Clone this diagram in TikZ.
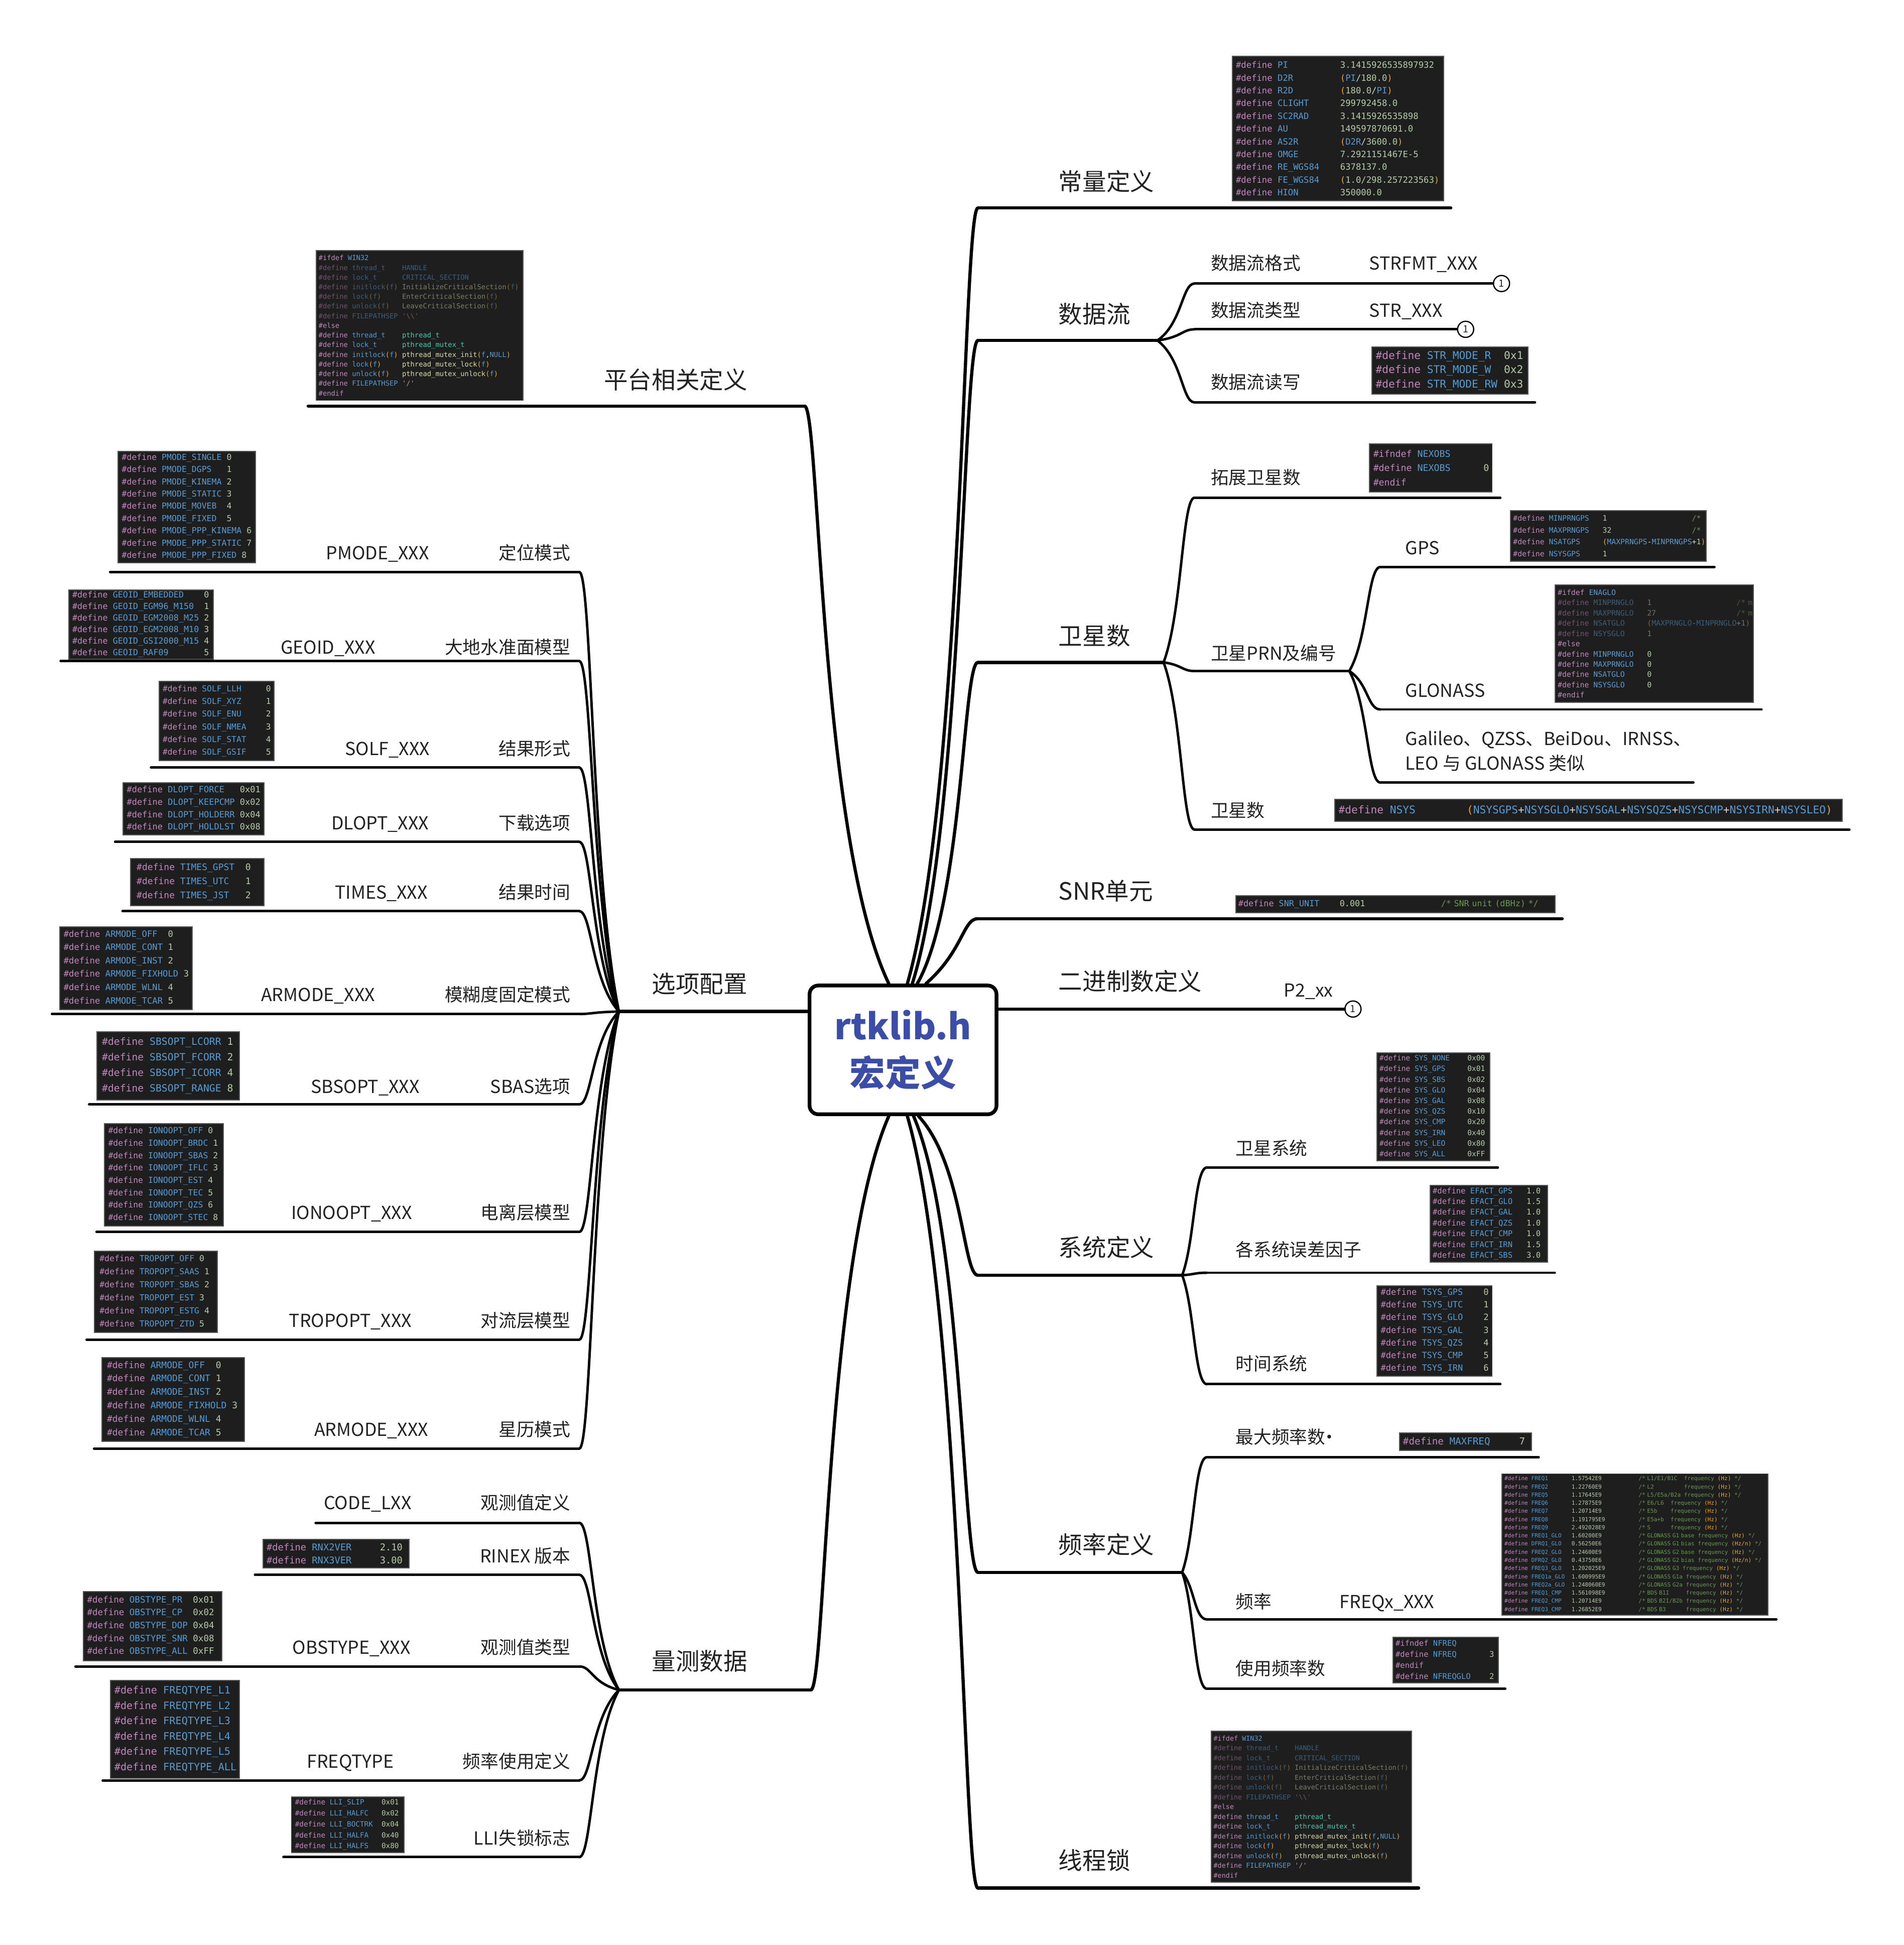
\documentclass[tikz,border=0pt]{standalone}
\usepackage{fontspec}
\setmainfont{Noto Sans CJK SC}
\newfontfamily\codefont{DejaVu Sans Mono}
\usetikzlibrary{calc}
\definecolor{txt}{HTML}{222222}
\definecolor{blu}{HTML}{3B4DA6}
\definecolor{codebg}{HTML}{1E1E1E}
\definecolor{codeborder}{HTML}{555555}
\definecolor{codetxt}{HTML}{D4D4D4}
\definecolor{ckw}{HTML}{C586C0}
\definecolor{cid}{HTML}{569CD6}
\definecolor{cnum}{HTML}{B5CEA8}
\definecolor{cpar}{HTML}{E9A93B}
\definecolor{ccmt}{HTML}{6A9955}
\definecolor{ctyp}{HTML}{4EC9B0}
\definecolor{cfn}{HTML}{DCDCAA}
\definecolor{cstr}{HTML}{CE9178}
\colorlet{ckwd}{ckw!50!codebg}
\colorlet{cidd}{cid!50!codebg}
\colorlet{cnumd}{cnum!50!codebg}
\colorlet{cpard}{cpar!50!codebg}
\colorlet{ccmtd}{ccmt!50!codebg}
\colorlet{cfnd}{cfn!50!codebg}
\colorlet{cstrd}{cstr!50!codebg}
\colorlet{ctxtd}{codetxt!50!codebg}
\newlength\codecw
\newcommand\kwc[1]{\textcolor{ckw}{#1}}
\newcommand\idc[1]{\textcolor{cid}{#1}}
\newcommand\nmc[1]{\textcolor{cnum}{#1}}
\newcommand\prc[1]{\textcolor{cpar}{#1}}
\newcommand\cmc[1]{\textcolor{ccmt}{#1}}
\newcommand\tyc[1]{\textcolor{ctyp}{#1}}
\newcommand\fnc[1]{\textcolor{cfn}{#1}}
\newcommand\stc[1]{\textcolor{cstr}{#1}}
\newcommand\kwd[1]{\textcolor{ckwd}{#1}}
\newcommand\idd[1]{\textcolor{cidd}{#1}}
\newcommand\nmd[1]{\textcolor{cnumd}{#1}}
\newcommand\prd[1]{\textcolor{cpard}{#1}}
\newcommand\cmdd[1]{\textcolor{ccmtd}{#1}}
\newcommand\fnd[1]{\textcolor{cfnd}{#1}}
\newcommand\std[1]{\textcolor{cstrd}{#1}}
\newcommand\dtx[1]{\textcolor{ctxtd}{#1}}
\newcommand\sk[1]{\hspace*{#1\codecw}}
\newcommand\cl[1]{\mbox{#1}}
\newcommand\df[3]{\mbox{\kwc{\#define}\sk{1}\idc{#1}\sk{#2}#3}}
\newcommand\dfd[3]{\mbox{\kwd{\#define}\sk{1}\idd{#1}\sk{#2}\dtx{#3}}}
\newcommand\fq[7]{\mbox{\kwc{\#define}\sk{1}\idc{#1}\sk{#2}\nmc{#3}\sk{#4}\cmc{/* #5}\sk{#6}\cmc{frequency}\sk{1}\prc{(#7)}\sk{1}\cmc{*/}}}
\newcommand\cdbox[9]{\node[code, text width={#4-2*#6}, inner xsep=#6, minimum height=#5, font=\codefont\fontsize{#7}{#8}\selectfont] (#1) at (#2,#3) {#9};}
\newcommand\conn[5][l2]{\draw[#1] let \p1=(#2), \p2=(#3) in (\p1) .. controls ({\x2+#4},{\y1+#5*(\y2-\y1)}) and ({\x2+#4},{\y2}) .. (\p2);}
\newcommand\threadcode{%
\cl{\kwc{\#ifdef}\sk{1}\idc{WIN32}}\\
\dfd{thread\_t}{4}{\idd{HANDLE}}\\
\dfd{lock\_t}{6}{\idd{CRITICAL\_SECTION}}\\
\dfd{initlock\prd{(}f\prd{)}}{1}{\fnd{InitializeCriticalSection}\prd{(}\idd{f}\prd{)}}\\
\dfd{lock\prd{(}f\prd{)}}{5}{\fnd{EnterCriticalSection}\prd{(}\idd{f}\prd{)}}\\
\dfd{unlock\prd{(}f\prd{)}}{3}{\fnd{LeaveCriticalSection}\prd{(}\idd{f}\prd{)}}\\
\dfd{FILEPATHSEP}{1}{\std{'\textbackslash\textbackslash'}}\\
\cl{\kwc{\#else}}\\
\df{thread\_t}{4}{\tyc{pthread\_t}}\\
\df{lock\_t}{6}{\tyc{pthread\_mutex\_t}}\\
\df{initlock\prc{(}f\prc{)}}{1}{\fnc{pthread\_mutex\_init}\prc{(}\idc{f},\idc{NULL}\prc{)}}\\
\df{lock\prc{(}f\prc{)}}{5}{\fnc{pthread\_mutex\_lock}\prc{(}\idc{f}\prc{)}}\\
\df{unlock\prc{(}f\prc{)}}{3}{\fnc{pthread\_mutex\_unlock}\prc{(}\idc{f}\prc{)}}\\
\df{FILEPATHSEP}{1}{\stc{'/'}}\\
\cl{\kwc{\#endif}}}
\begin{document}
\begin{tikzpicture}[x=1pt,y=-1pt,
  l1/.style={line width=2.6pt, draw=black, line cap=round},
  l2/.style={line width=2pt, draw=black, line cap=round},
  t1/.style={font=\fontsize{19.3}{23}\selectfont, inner sep=0pt, text=txt},
  t2/.style={font=\fontsize{14.5}{17}\selectfont, inner sep=0pt, text=txt},
  code/.style={anchor=north west, fill=codebg, draw=codeborder, line width=0.8pt, inner ysep=0pt, align=left, text=codetxt, execute at begin node={\settowidth{\codecw}{0}}},
  circ/.style={circle, draw=black, line width=1pt, fill=white, inner sep=0pt, minimum size=13pt, font=\fontsize{8}{8}\selectfont, text=txt}]
\useasboundingbox (0,0) rectangle (1538,1571);
\fill[white] (0,0) rectangle (1538,1571);

% centre
\node[draw=black, line width=3pt, rounded corners=7pt, fill=white, minimum width=151, minimum height=104, align=center, text=blu, font=\bfseries\fontsize{28.7}{38}\selectfont, inner sep=0pt] (c) at (729.5,848) {rtklib.h\\宏定义};

% start points on the centre
\coordinate (cK) at ($(c.north)+(3.5,0)$);
\coordinate (cD) at ($(c.north)+(7.5,0)$);
\coordinate (cS) at ($(c.north)+(11.5,0)$);
\coordinate (cR) at ($(c.north)+(18.5,0)$);
\coordinate (cP) at ($(c.north)+(-11.5,0)$);
\coordinate (cY) at ($(c.south)+(12.5,0)$);
\coordinate (cF) at ($(c.south)+(8.5,0)$);
\coordinate (cL) at ($(c.south)+(3.5,0)$);
\coordinate (cM) at ($(c.south)+(-11.5,0)$);

% level-1 underline end points
\coordinate (K0) at (790,168);  \coordinate (K1) at (1172,168);
\coordinate (D0) at (790,275);  \coordinate (D1) at (935,275);
\coordinate (S0) at (790,535);  \coordinate (S1) at (940,535);
\coordinate (R0) at (790,742);  \coordinate (R1) at (1262,742);
\coordinate (B1) at (1086,815); \coordinate (B0) at (c.east |- B1);
\coordinate (Y0) at (790,1030); \coordinate (Y1) at (955,1030);
\coordinate (F0) at (790,1270); \coordinate (F1) at (955,1270);
\coordinate (L0) at (790,1525); \coordinate (L1) at (1146,1525);
\coordinate (P0) at (650,328);  \coordinate (P1) at (249,328);
\coordinate (O1) at (500,817);  \coordinate (O0) at (c.west |- O1);
\coordinate (M0) at (655,1365); \coordinate (M1) at (500,1365);

\conn[l1]{cK}{K0}{-12pt}{0.25}
\conn[l1]{cD}{D0}{-12pt}{0.25}
\conn[l1]{cS}{S0}{-12pt}{0.25}
\conn[l1]{cR}{R0}{-12pt}{0.5}
\conn[l1]{cY}{Y0}{-12pt}{0.3}
\conn[l1]{cF}{F0}{-12pt}{0.25}
\conn[l1]{cL}{L0}{-12pt}{0.25}
\conn[l1]{cP}{P0}{12pt}{0.25}
\conn[l1]{cM}{M0}{12pt}{0.25}

\node[circ] (cirC) at (1093,815) {1};
\foreach \ua/\ub in {K0/K1,D0/D1,S0/S1,R0/R1,Y0/Y1,F0/F1,L0/L1,P0/P1,O0/O1,M0/M1}
  \draw[l1] (\ua) -- (\ub);
\draw[l1] (B0) -- (cirC);

% level-2 right
\coordinate (Da0) at (965,229);  \node[circ] (cirA) at (1213,229) {1};
\coordinate (Db0) at (965,266);  \node[circ] (cirB) at (1184,266) {1};
\coordinate (Dc0) at (965,325);  \coordinate (Dc1) at (1240,325);
\coordinate (Sa0) at (965,402);  \coordinate (Sa1) at (1212,402);
\coordinate (Sb0) at (965,542);  \coordinate (Sb1) at (1090,542);
\coordinate (Sc0) at (965,670);  \coordinate (Sc1) at (1494,670);
\coordinate (Ga0) at (1115,458); \coordinate (Ga1) at (1385,458);
\coordinate (Gb0) at (1115,573); \coordinate (Gb1) at (1423,573);
\coordinate (Gc0) at (1115,632); \coordinate (Gc1) at (1368,632);
\coordinate (Ya0) at (975,943);  \coordinate (Ya1) at (1210,943);
\coordinate (Yb0) at (975,1028); \coordinate (Yb1) at (1256,1028);
\coordinate (Yc0) at (975,1118); \coordinate (Yc1) at (1212,1118);
\coordinate (Fa0) at (975,1177); \coordinate (Fa1) at (1243,1177);
\coordinate (Fb0) at (975,1308); \coordinate (Fb1) at (1435,1308);
\coordinate (Fc0) at (975,1364); \coordinate (Fc1) at (1216,1364);
\draw[l2] (Da0) -- (cirA);
\draw[l2] (Db0) -- (cirB);
\foreach \ua/\ub in {Dc0/Dc1,Sa0/Sa1,Sb0/Sb1,Sc0/Sc1,Ga0/Ga1,Gb0/Gb1,Gc0/Gc1,Ya0/Ya1,Yb0/Yb1,Yc0/Yc1,Fa0/Fa1,Fb0/Fb1,Fc0/Fc1}
  \draw[l2] (\ua) -- (\ub);
\foreach \ua/\ub in {D1/Da0,D1/Db0,D1/Dc0,S1/Sa0,S1/Sb0,S1/Sc0,Sb1/Ga0,Sb1/Gb0,Sb1/Gc0,Y1/Ya0,Y1/Yb0,Y1/Yc0,F1/Fa0,F1/Fb0,F1/Fc0}
  {\conn{\ua}{\ub}{-10pt}{0.3}}

% level-2 left
\coordinate (Oa0) at (468,462);  \coordinate (Oa1) at (89,462);
\coordinate (Ob0) at (468,534);  \coordinate (Ob1) at (49,534);
\coordinate (Oc0) at (468,620);  \coordinate (Oc1) at (122,620);
\coordinate (Od0) at (468,680);  \coordinate (Od1) at (93,680);
\coordinate (Oe0) at (468,736);  \coordinate (Oe1) at (99,736);
\coordinate (Of0) at (468,819);  \coordinate (Of1) at (42,819);
\coordinate (Og0) at (468,892);  \coordinate (Og1) at (72,892);
\coordinate (Oh0) at (468,995);  \coordinate (Oh1) at (78,995);
\coordinate (Oi0) at (468,1082); \coordinate (Oi1) at (70,1082);
\coordinate (Oj0) at (468,1170); \coordinate (Oj1) at (76,1170);
\coordinate (Ma0) at (468,1230); \coordinate (Ma1) at (255,1230);
\coordinate (Mb0) at (468,1272); \coordinate (Mb1) at (206,1272);
\coordinate (Mc0) at (468,1346); \coordinate (Mc1) at (61,1346);
\coordinate (Md0) at (468,1438); \coordinate (Md1) at (83,1438);
\coordinate (Me0) at (468,1500); \coordinate (Me1) at (229,1500);
\foreach \ua in {Oa,Ob,Oc,Od,Oe,Of,Og,Oh,Oi,Oj}
  {\draw[l2] (\ua0) -- (\ua1); \conn{O1}{\ua0}{10pt}{0.3}}
\foreach \ua in {Ma,Mb,Mc,Md,Me}
  {\draw[l2] (\ua0) -- (\ua1); \conn{M1}{\ua0}{10pt}{0.3}}

% level-1 labels
\node[t1, anchor=base west] (nK) at (855,154) {常量定义};
\node[t1, anchor=base west] (nD) at (855,261) {数据流};
\node[t1, anchor=base west] (nS) at (855,521) {卫星数};
\node[t1, anchor=base west] (nR) at (855,727) {SNR单元};
\node[t1, anchor=base west] (nB) at (855,800) {二进制数定义};
\node[t1, anchor=base west] (nY) at (855,1015) {系统定义};
\node[t1, anchor=base west] (nF) at (855,1255) {频率定义};
\node[t1, anchor=base west] (nL) at (855,1510) {线程锁};
\node[t1, anchor=base east] (nP) at (604,314) {平台相关定义};
\node[t1, anchor=base east] (nO) at (604,802) {选项配置};
\node[t1, anchor=base east] (nM) at (604,1349) {量测数据};

% level-2 labels right
\node[t2, anchor=base west] (tDa) at (978,218) {数据流格式};
\node[t2, anchor=base west] (tDa2) at (1106,218) {STRFMT\_XXX};
\node[t2, anchor=base west] (tDb) at (978,256) {数据流类型};
\node[t2, anchor=base west] (tDb2) at (1106,256) {STR\_XXX};
\node[t2, anchor=base west] (tDc) at (978,314) {数据流读写};
\node[t2, anchor=base west] (tSa) at (978,391) {拓展卫星数};
\node[t2, anchor=base west] (tSb) at (978,533) {卫星PRN及编号};
\node[t2, anchor=base west] (tSc) at (978,660) {卫星数};
\node[t2, anchor=base west] (tGa) at (1135,448) {GPS};
\node[t2, anchor=base west] (tGb) at (1135,563) {GLONASS};
\node[t2, anchor=base west] (tGc) at (1135,602) {Galileo、QZSS、BeiDou、IRNSS、};
\node[t2, anchor=base west] (tGc2) at (1135,622) {LEO 与 GLONASS 类似};
\node[t2, anchor=base west] (tB2) at (1037,805) {P2\_xx};
\node[t2, anchor=base west] (tYa) at (998,933) {卫星系统};
\node[t2, anchor=base west] (tYb) at (998,1015) {各系统误差因子};
\node[t2, anchor=base west] (tYc) at (998,1107) {时间系统};
\node[t2, anchor=base west] (tFa) at (998,1166) {最大频率数\kern-4pt·};
\node[t2, anchor=base west] (tFb) at (998,1299) {频率};
\node[t2, anchor=base west] (tFb2) at (1082,1299) {FREQx\_XXX};
\node[t2, anchor=base west] (tFc) at (998,1353) {使用频率数};

% level-2 labels left
\node[t2, anchor=base east] (tOa) at (461,452) {定位模式};
\node[t2, anchor=base] (tOa2) at (305,452) {PMODE\_XXX};
\node[t2, anchor=base east] (tOb) at (461,528) {大地水准面模型};
\node[t2, anchor=base] (tOb2) at (265,528) {GEOID\_XXX};
\node[t2, anchor=base east] (tOc) at (461,610) {结果形式};
\node[t2, anchor=base] (tOc2) at (313,610) {SOLF\_XXX};
\node[t2, anchor=base east] (tOd) at (461,670) {下载选项};
\node[t2, anchor=base] (tOd2) at (307,670) {DLOPT\_XXX};
\node[t2, anchor=base east] (tOe) at (461,726) {结果时间};
\node[t2, anchor=base] (tOe2) at (308,726) {TIMES\_XXX};
\node[t2, anchor=base east] (tOf) at (461,809) {模糊度固定模式};
\node[t2, anchor=base] (tOf2) at (257,809) {ARMODE\_XXX};
\node[t2, anchor=base east] (tOg) at (461,883) {SBAS选项};
\node[t2, anchor=base] (tOg2) at (295,883) {SBSOPT\_XXX};
\node[t2, anchor=base east] (tOh) at (461,985) {电离层模型};
\node[t2, anchor=base] (tOh2) at (284,985) {IONOOPT\_XXX};
\node[t2, anchor=base east] (tOi) at (461,1072) {对流层模型};
\node[t2, anchor=base] (tOi2) at (283,1072) {TROPOPT\_XXX};
\node[t2, anchor=base east] (tOj) at (461,1160) {星历模式};
\node[t2, anchor=base] (tOj2) at (300,1160) {ARMODE\_XXX};
\node[t2, anchor=base east] (tMa) at (461,1219) {观测值定义};
\node[t2, anchor=base] (tMa2) at (297,1219) {CODE\_LXX};
\node[t2, anchor=base east] (tMb) at (461,1262) {RINEX 版本};
\node[t2, anchor=base east] (tMc) at (461,1336) {观测值类型};
\node[t2, anchor=base] (tMc2) at (284,1336) {OBSTYPE\_XXX};
\node[t2, anchor=base east] (tMd) at (461,1428) {频率使用定义};
\node[t2, anchor=base] (tMd2) at (283,1428) {FREQTYPE};
\node[t2, anchor=base east] (tMe) at (461,1490) {LLI失锁标志};

% code boxes right
\cdbox{kconst}{995}{45}{171}{117}{3}{7}{10.3}{%
\df{PI}{10}{\nmc{3.1415926535897932}}\\
\df{D2R}{9}{\prc{(}\idc{PI}/\nmc{180.0}\prc{)}}\\
\df{R2D}{9}{\prc{(}\nmc{180.0}/\idc{PI}\prc{)}}\\
\df{CLIGHT}{6}{\nmc{299792458.0}}\\
\df{SC2RAD}{6}{\nmc{3.1415926535898}}\\
\df{AU}{10}{\nmc{149597870691.0}}\\
\df{AS2R}{8}{\prc{(}\idc{D2R}/\nmc{3600.0}\prc{)}}\\
\df{OMGE}{8}{\nmc{7.2921151467E-5}}\\
\df{RE\_WGS84}{4}{\nmc{6378137.0}}\\
\df{FE\_WGS84}{4}{\prc{(}\nmc{1.0/298.257223563}\prc{)}}\\
\df{HION}{8}{\nmc{350000.0}}}
\cdbox{kstrm}{1108}{280}{126}{38}{3}{8.6}{11.5}{%
\df{STR\_MODE\_R}{2}{\nmc{0x1}}\\
\df{STR\_MODE\_W}{2}{\nmc{0x2}}\\
\df{STR\_MODE\_RW}{1}{\nmc{0x3}}}
\cdbox{knex}{1106}{358}{99}{39}{3}{7.4}{11.5}{%
\cl{\kwc{\#ifndef}\sk{1}\idc{NEXOBS}}\\
\df{NEXOBS}{6}{\nmc{0}}\\
\cl{\kwc{\#endif}}}
\cdbox{kgps}{1220}{412}{158}{41}{2}{6}{9.5}{%
\df{MINPRNGPS}{3}{\nmc{1}\sk{19}\cmc{/*}}\\
\df{MAXPRNGPS}{3}{\nmc{32}\sk{18}\cmc{/*}}\\
\df{NSATGPS}{5}{\prc{(}\idc{MAXPRNGPS}-\idc{MINPRNGPS}+\nmc{1}\prc{)}}\\
\df{NSYSGPS}{5}{\nmc{1}}}
\cdbox{kglo}{1256}{472}{160}{95}{2}{6}{8.3}{%
\cl{\kwc{\#ifdef}\sk{1}\idc{ENAGLO}}\\
\dfd{MINPRNGLO}{3}{\nmd{1}\sk{19}\cmdd{/* m}}\\
\dfd{MAXPRNGLO}{3}{\nmd{27}\sk{18}\cmdd{/* m}}\\
\dfd{NSATGLO}{5}{\prd{(}\idd{MAXPRNGLO}-\idd{MINPRNGLO}+\nmd{1}\prd{)}}\\
\dfd{NSYSGLO}{5}{\nmd{1}}\\
\cl{\kwc{\#else}}\\
\df{MINPRNGLO}{3}{\nmc{0}}\\
\df{MAXPRNGLO}{3}{\nmc{0}}\\
\df{NSATGLO}{5}{\nmc{0}}\\
\df{NSYSGLO}{5}{\nmc{0}}\\
\cl{\kwc{\#endif}}}
\cdbox{knsys}{1078}{645}{410}{18}{3}{8.6}{11}{%
\df{NSYS}{8}{\prc{(}\idc{NSYSGPS}+\idc{NSYSGLO}+\idc{NSYSGAL}+\idc{NSYSQZS}+\idc{NSYSCMP}+\idc{NSYSIRN}+\idc{NSYSLEO}\prc{)}}}
\cdbox{ksnr}{998}{723}{258}{14}{2}{6.8}{9}{%
\df{SNR\_UNIT}{4}{\nmc{0.001}\sk{15}\cmc{/* SNR unit (dBHz) */}}}
\cdbox{ksys}{1112}{850}{91}{87}{2}{5.9}{8.6}{%
\df{SYS\_NONE}{4}{\nmc{0x00}}\\
\df{SYS\_GPS}{5}{\nmc{0x01}}\\
\df{SYS\_SBS}{5}{\nmc{0x02}}\\
\df{SYS\_GLO}{5}{\nmc{0x04}}\\
\df{SYS\_GAL}{5}{\nmc{0x08}}\\
\df{SYS\_QZS}{5}{\nmc{0x10}}\\
\df{SYS\_CMP}{5}{\nmc{0x20}}\\
\df{SYS\_IRN}{5}{\nmc{0x40}}\\
\df{SYS\_LEO}{5}{\nmc{0x80}}\\
\df{SYS\_ALL}{5}{\nmc{0xFF}}}
\cdbox{kefact}{1155}{957}{95}{62}{2}{6.3}{8.7}{%
\df{EFACT\_GPS}{3}{\nmc{1.0}}\\
\df{EFACT\_GLO}{3}{\nmc{1.5}}\\
\df{EFACT\_GAL}{3}{\nmc{1.0}}\\
\df{EFACT\_QZS}{3}{\nmc{1.0}}\\
\df{EFACT\_CMP}{3}{\nmc{1.0}}\\
\df{EFACT\_IRN}{3}{\nmc{1.5}}\\
\df{EFACT\_SBS}{3}{\nmc{3.0}}}
\cdbox{ktsys}{1112}{1038}{93}{73}{3}{6.9}{10.2}{%
\df{TSYS\_GPS}{4}{\nmc{0}}\\
\df{TSYS\_UTC}{4}{\nmc{1}}\\
\df{TSYS\_GLO}{4}{\nmc{2}}\\
\df{TSYS\_GAL}{4}{\nmc{3}}\\
\df{TSYS\_QZS}{4}{\nmc{4}}\\
\df{TSYS\_CMP}{4}{\nmc{5}}\\
\df{TSYS\_IRN}{4}{\nmc{6}}}
\cdbox{kmaxf}{1130}{1157}{107}{14}{3}{7.8}{10}{%
\df{MAXFREQ}{5}{\nmc{7}}}
\cdbox{kfreq}{1213}{1190}{215}{114}{2}{4.5}{6.6}{%
\fq{FREQ1}{7}{1.57542E9}{11}{L1/E1/B1C}{2}{Hz}\\
\fq{FREQ2}{7}{1.22760E9}{11}{L2}{9}{Hz}\\
\fq{FREQ5}{7}{1.17645E9}{11}{L5/E5a/B2a}{1}{Hz}\\
\fq{FREQ6}{7}{1.27875E9}{11}{E6/L6}{2}{Hz}\\
\fq{FREQ7}{7}{1.20714E9}{11}{E5b}{4}{Hz}\\
\fq{FREQ8}{7}{1.191795E9}{10}{E5a+b}{2}{Hz}\\
\fq{FREQ9}{7}{2.492028E9}{10}{S}{6}{Hz}\\
\fq{FREQ1\_GLO}{3}{1.60200E9}{11}{GLONASS G1 base}{1}{Hz}\\
\fq{DFRQ1\_GLO}{3}{0.56250E6}{11}{GLONASS G1 bias}{1}{Hz/n}\\
\fq{FREQ2\_GLO}{3}{1.24600E9}{11}{GLONASS G2 base}{1}{Hz}\\
\fq{DFRQ2\_GLO}{3}{0.43750E6}{11}{GLONASS G2 bias}{1}{Hz/n}\\
\fq{FREQ3\_GLO}{3}{1.202025E9}{10}{GLONASS G3}{1}{Hz}\\
\fq{FREQ1a\_GLO}{2}{1.600995E9}{10}{GLONASS G1a}{1}{Hz}\\
\fq{FREQ2a\_GLO}{2}{1.248060E9}{10}{GLONASS G2a}{1}{Hz}\\
\fq{FREQ1\_CMP}{3}{1.561098E9}{10}{BDS B1I}{5}{Hz}\\
\fq{FREQ2\_CMP}{3}{1.20714E9}{11}{BDS B2I/B2b}{1}{Hz}\\
\fq{FREQ3\_CMP}{3}{1.26852E9}{11}{BDS B3}{6}{Hz}}
\cdbox{knfreq}{1125}{1322}{85}{37}{2}{6.3}{9}{%
\cl{\kwc{\#ifndef}\sk{1}\idc{NFREQ}}\\
\df{NFREQ}{7}{\nmc{3}}\\
\cl{\kwc{\#endif}}\\
\df{NFREQGLO}{4}{\nmc{2}}}
\cdbox{kthr}{978}{1398}{162}{122}{2}{5.45}{7.9}{\threadcode}
\cdbox{kplat}{255}{202}{167}{121}{2}{5.6}{7.8}{\threadcode}

% code boxes left
\cdbox{kpm}{95}{364}{111}{90}{3}{6.7}{9.9}{%
\df{PMODE\_SINGLE}{1}{\nmc{0}}\\
\df{PMODE\_DGPS}{3}{\nmc{1}}\\
\df{PMODE\_KINEMA}{1}{\nmc{2}}\\
\df{PMODE\_STATIC}{1}{\nmc{3}}\\
\df{PMODE\_MOVEB}{2}{\nmc{4}}\\
\df{PMODE\_FIXED}{2}{\nmc{5}}\\
\df{PMODE\_PPP\_KINEMA}{1}{\nmc{6}}\\
\df{PMODE\_PPP\_STATIC}{1}{\nmc{7}}\\
\df{PMODE\_PPP\_FIXED}{1}{\nmc{8}}}
\cdbox{kgeo}{55}{476}{117}{56}{3}{6.8}{9.3}{%
\df{GEOID\_EMBEDDED}{4}{\nmc{0}}\\
\df{GEOID\_EGM96\_M150}{2}{\nmc{1}}\\
\df{GEOID\_EGM2008\_M25}{1}{\nmc{2}}\\
\df{GEOID\_EGM2008\_M10}{1}{\nmc{3}}\\
\df{GEOID\_GSI2000\_M15}{1}{\nmc{4}}\\
\df{GEOID\_RAF09}{7}{\nmc{5}}}
\cdbox{ksolf}{128}{550}{93}{64}{3}{6.6}{10.2}{%
\df{SOLF\_LLH}{5}{\nmc{0}}\\
\df{SOLF\_XYZ}{5}{\nmc{1}}\\
\df{SOLF\_ENU}{5}{\nmc{2}}\\
\df{SOLF\_NMEA}{4}{\nmc{3}}\\
\df{SOLF\_STAT}{4}{\nmc{4}}\\
\df{SOLF\_GSIF}{4}{\nmc{5}}}
\cdbox{kdl}{99}{632}{114}{42}{3}{6.9}{10}{%
\df{DLOPT\_FORCE}{3}{\nmc{0x01}}\\
\df{DLOPT\_KEEPCMP}{1}{\nmc{0x02}}\\
\df{DLOPT\_HOLDERR}{1}{\nmc{0x04}}\\
\df{DLOPT\_HOLDLST}{1}{\nmc{0x08}}}
\cdbox{ktimes}{105}{693}{108}{38}{5}{7.3}{11.5}{%
\df{TIMES\_GPST}{2}{\nmc{0}}\\
\df{TIMES\_UTC}{3}{\nmc{1}}\\
\df{TIMES\_JST}{3}{\nmc{2}}}
\cdbox{kar1}{48}{748}{107}{67}{3}{7}{10.8}{%
\df{ARMODE\_OFF}{2}{\nmc{0}}\\
\df{ARMODE\_CONT}{1}{\nmc{1}}\\
\df{ARMODE\_INST}{1}{\nmc{2}}\\
\df{ARMODE\_FIXHOLD}{1}{\nmc{3}}\\
\df{ARMODE\_WLNL}{1}{\nmc{4}}\\
\df{ARMODE\_TCAR}{1}{\nmc{5}}}
\cdbox{ksbs}{78}{833}{115}{55}{4}{8}{12.5}{%
\df{SBSOPT\_LCORR}{1}{\nmc{1}}\\
\df{SBSOPT\_FCORR}{1}{\nmc{2}}\\
\df{SBSOPT\_ICORR}{1}{\nmc{4}}\\
\df{SBSOPT\_RANGE}{1}{\nmc{8}}}
\cdbox{kiono}{84}{907}{96}{83}{3}{6.7}{10}{%
\df{IONOOPT\_OFF}{1}{\nmc{0}}\\
\df{IONOOPT\_BRDC}{1}{\nmc{1}}\\
\df{IONOOPT\_SBAS}{1}{\nmc{2}}\\
\df{IONOOPT\_IFLC}{1}{\nmc{3}}\\
\df{IONOOPT\_EST}{1}{\nmc{4}}\\
\df{IONOOPT\_TEC}{1}{\nmc{5}}\\
\df{IONOOPT\_QZS}{1}{\nmc{6}}\\
\df{IONOOPT\_STEC}{1}{\nmc{8}}}
\cdbox{ktrop}{76}{1010}{99}{66}{4}{6.7}{10.5}{%
\df{TROPOPT\_OFF}{1}{\nmc{0}}\\
\df{TROPOPT\_SAAS}{1}{\nmc{1}}\\
\df{TROPOPT\_SBAS}{1}{\nmc{2}}\\
\df{TROPOPT\_EST}{1}{\nmc{3}}\\
\df{TROPOPT\_ESTG}{1}{\nmc{4}}\\
\df{TROPOPT\_ZTD}{1}{\nmc{5}}}
\cdbox{kar2}{82}{1096}{115}{68}{4}{7.3}{10.9}{%
\df{ARMODE\_OFF}{2}{\nmc{0}}\\
\df{ARMODE\_CONT}{1}{\nmc{1}}\\
\df{ARMODE\_INST}{1}{\nmc{2}}\\
\df{ARMODE\_FIXHOLD}{1}{\nmc{3}}\\
\df{ARMODE\_WLNL}{1}{\nmc{4}}\\
\df{ARMODE\_TCAR}{1}{\nmc{5}}}
\cdbox{krnx}{212}{1243}{118}{23}{3}{7.6}{10.5}{%
\df{RNX2VER}{5}{\nmc{2.10}}\\
\df{RNX3VER}{5}{\nmc{3.00}}}
\cdbox{kobs}{67}{1285}{112}{56}{3}{7.1}{10.4}{%
\df{OBSTYPE\_PR}{2}{\nmc{0x01}}\\
\df{OBSTYPE\_CP}{2}{\nmc{0x02}}\\
\df{OBSTYPE\_DOP}{1}{\nmc{0x04}}\\
\df{OBSTYPE\_SNR}{1}{\nmc{0x08}}\\
\df{OBSTYPE\_ALL}{1}{\nmc{0xFF}}}
\cdbox{kfqt}{89}{1357}{104}{79}{3}{8.2}{12.4}{%
\df{FREQTYPE\_L1}{0}{}\\
\df{FREQTYPE\_L2}{0}{}\\
\df{FREQTYPE\_L3}{0}{}\\
\df{FREQTYPE\_L4}{0}{}\\
\df{FREQTYPE\_L5}{0}{}\\
\df{FREQTYPE\_ALL}{0}{}}
\cdbox{klli}{235}{1451}{91}{45}{3}{5.8}{8.8}{%
\df{LLI\_SLIP}{4}{\nmc{0x01}}\\
\df{LLI\_HALFC}{3}{\nmc{0x02}}\\
\df{LLI\_BOCTRK}{2}{\nmc{0x04}}\\
\df{LLI\_HALFA}{3}{\nmc{0x40}}\\
\df{LLI\_HALFS}{3}{\nmc{0x80}}}
\end{tikzpicture}
\end{document}
